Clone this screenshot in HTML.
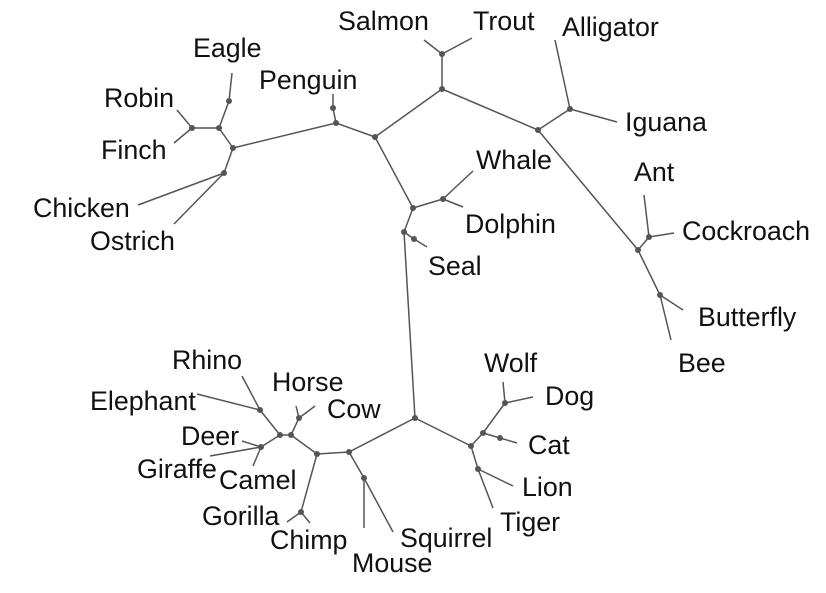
<!DOCTYPE html>
<html><head><meta charset="utf-8"><style>
html,body{margin:0;padding:0;background:#fff;width:826px;height:593px;overflow:hidden}
svg text{font-family:"Liberation Sans",Arial,sans-serif;font-size:26.8px;fill:#111}
</style></head><body>
<svg id="tree" width="826" height="593" viewBox="0 0 826 593"></svg>
<script>
// node ids, layout x, layout y
const nodeIds = ["birds","eagleN","robinFinch","chickOst","pengN","pengDot","n375","topN","fishN","reptN","allIgu","insN","antCock","butBee","mamN","whaleDol","sealN","sealDot","center","left1","left2","left3","left4","rhinoDot","horseCow","deerN","gorChimp","mouseDot","carn","canCat","catDot","wolfDog","lionDot","eagleDot",
"Salmon","Trout","Alligator","Iguana","Eagle","Robin","Finch","Chicken","Ostrich","Penguin","Whale","Dolphin","Seal","Ant","Cockroach","Butterfly","Bee","Rhino","Elephant","Horse","Cow","Deer","Giraffe","Camel","Gorilla","Chimp","Mouse","Squirrel","Wolf","Dog","Cat","Lion","Tiger"];
const nodeX = [233,219,192,224,336,333,375,442,442,538,570,638,649,660,413,443,404,414,415,349,317,291,280,260,299,261,301,364,471,483,500,505,478,229,
424,472,555,617,232,177,174,138,174,333,473,463,427,644,674,683,671,242,197,296,315,242,210,253,287,310,364,393,503,533,517,513,493];
const nodeY = [148,128,128,173,123,108,137,89,54,130,109,250,237,295,208,199,232,239,418,452,454,435,435,410,418,447,512,478,446,433,438,403,469,101,
40,38,40,122,73,110,143,205,224,94,171,207,247,195,233,310,340,376,394,406,406,441,456,466,522,523,528,532,382,397,443,486,508];
const edgesFrom = ["birds","birds","birds","eagleN","eagleN","eagleDot","robinFinch","robinFinch","chickOst","chickOst","pengN","pengN","pengDot","n375","n375","topN","topN","fishN","fishN","reptN","reptN","allIgu","allIgu","insN","insN","antCock","antCock","butBee","butBee","mamN","mamN","whaleDol","whaleDol","sealN","sealN","sealDot","center","center","left1","left1","mouseDot","mouseDot","left2","left2","gorChimp","gorChimp","left3","left3","horseCow","horseCow","left4","left4","rhinoDot","rhinoDot","deerN","deerN","deerN","carn","carn","canCat","canCat","catDot","wolfDog","wolfDog","lionDot","lionDot"];
const edgesTo = ["eagleN","chickOst","pengN","robinFinch","eagleDot","Eagle","Robin","Finch","Chicken","Ostrich","pengDot","n375","Penguin","topN","mamN","fishN","reptN","Salmon","Trout","allIgu","insN","Alligator","Iguana","antCock","butBee","Ant","Cockroach","Butterfly","Bee","whaleDol","sealN","Whale","Dolphin","sealDot","center","Seal","left1","carn","left2","mouseDot","Mouse","Squirrel","left3","gorChimp","Gorilla","Chimp","horseCow","left4","Horse","Cow","rhinoDot","deerN","Rhino","Elephant","Deer","Giraffe","Camel","canCat","lionDot","wolfDog","catDot","Cat","Wolf","Dog","Lion","Tiger"];
const labelNames = ["Salmon","Trout","Alligator","Eagle","Penguin","Robin","Finch","Iguana","Whale","Ant","Chicken","Dolphin","Cockroach","Ostrich","Seal","Butterfly","Bee","Rhino","Wolf","Horse","Dog","Elephant","Cow","Deer","Cat","Giraffe","Camel","Lion","Gorilla","Tiger","Chimp","Squirrel","Mouse"];
const labelX = [338,473,562,193,259,104,101,625,476,634,33,465,682,90,428,698,678,172,484,272,545,90,327,181,528,137,219,522,202,500,270,400,352];
const labelY = [30,30,36,57,89,107,159,131,169,181,217,233,240,250,275,326,372,369,372,391,405,410,418,445,454,478,489,496,525,531,549,547,572];

const svg=document.getElementById('tree');
const NS='http://www.w3.org/2000/svg';
const idx=id=>nodeIds.indexOf(id);
const leafSet=new Set(labelNames);
edgesFrom.forEach((f,i)=>{
  const a=idx(f),b=idx(edgesTo[i]);
  const l=document.createElementNS(NS,'line');
  l.setAttribute('x1',nodeX[a]);l.setAttribute('y1',nodeY[a]);
  l.setAttribute('x2',nodeX[b]);l.setAttribute('y2',nodeY[b]);
  l.setAttribute('stroke','#555');l.setAttribute('stroke-width','1.5');
  
  
  svg.appendChild(l);
});
nodeIds.forEach((id,i)=>{
  if(leafSet.has(id))return;
  const c=document.createElementNS(NS,'circle');
  c.setAttribute('cx',nodeX[i]);c.setAttribute('cy',nodeY[i]);c.setAttribute('r','3');
  c.setAttribute('fill','#555');
  
  
  svg.appendChild(c);
});
labelNames.forEach((n,i)=>{
  const t=document.createElementNS(NS,'text');
  t.setAttribute('x',labelX[i]);t.setAttribute('y',labelY[i]);
  t.textContent=n;
  
  
  svg.appendChild(t);
});
</script>
</body></html>
